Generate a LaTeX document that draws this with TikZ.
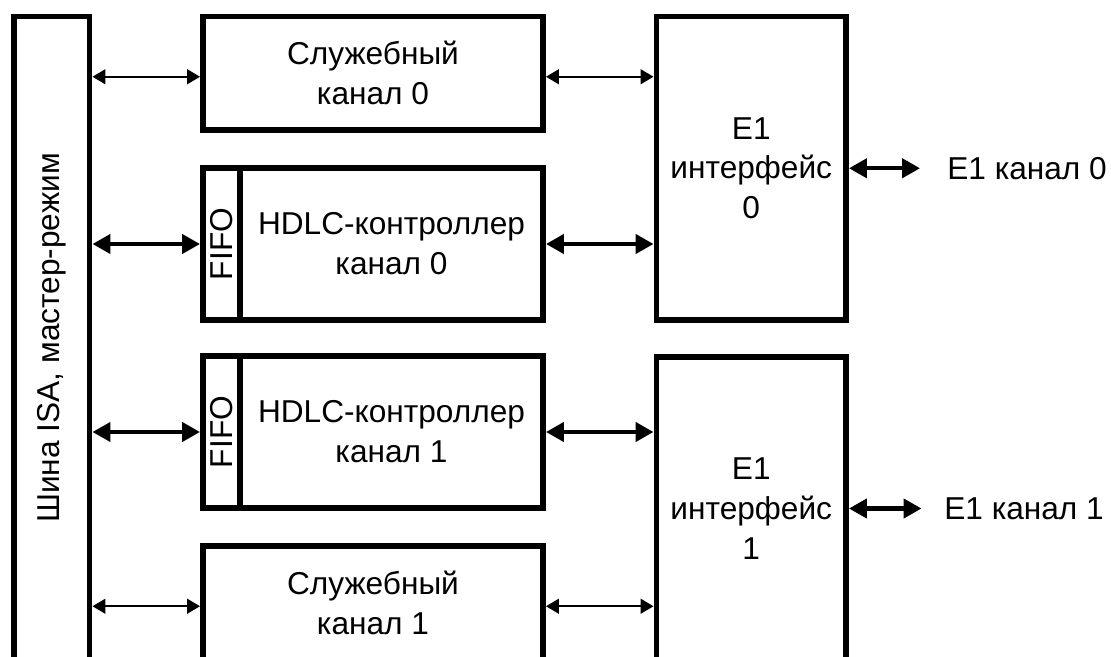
\documentclass[tikz,border=0pt]{standalone}
\usepackage{fontspec}
\setmainfont{Liberation Sans}
\usetikzlibrary{arrows.meta}

\begin{document}
\begin{tikzpicture}[scale=1.0000]
	\tikzstyle{every node}=[scale=1.0000, font=\fontsize{18}{22.7}\selectfont]
	\tikzstyle{blok}=[draw= a00000b , line width=3.4pt, inner sep=0pt, align=center]
	\tikzstyle{tonkaya}=[draw= a00000b , line width=1.0pt, {Triangle[length=7.4pt,width=8.5pt]}-{Triangle[length=7.4pt,width=8.5pt]}]
	\tikzstyle{tolstaya}=[draw= a00000b , line width=2.4pt, {Triangle[length=10.2pt,width=10.8pt]}-{Triangle[length=10.2pt,width=10.8pt]}]
	
	\definecolor{a00000b}{RGB}{0,0,0}
	%% page frame, bottom edge cuts the lower boxes
	\clip (0.0000,0.0000) rectangle (22.2200,-13.1400);
	
	\node [blok, minimum width=1.5100cm, minimum height=12.8600cm] (bus) at (1.0350,-6.7600) {\rotatebox{90}{Шина ISA, мастер-режим}};
	\node [blok, minimum width=6.8000cm, minimum height=2.2700cm] (slch0) at (7.4600,-1.4650) {Служебный\\канал 0};
	\node [blok, minimum width=0.7400cm, minimum height=3.0400cm] (fifo0) at (4.4300,-4.8800) {\rotatebox{90}{FIFO}};
	\node [blok, minimum width=6.0600cm, minimum height=3.0400cm] (hdlc0) at (7.8300,-4.8800) {HDLC-контроллер\\канал 0};
	\node [blok, minimum width=3.7900cm, minimum height=6.0700cm] (e1if0) at (15.0250,-3.3650) {E1\\интерфейс\\0};
	\node [right, inner sep=0pt] (e1ch0) at (18.9400,-3.3650) {E1 канал 0};
	\coordinate (e1end0) at (18.4000,-3.3650);
	
	\node [blok, minimum width=0.7400cm, minimum height=3.0400cm] (fifo1) at (4.4300,-8.6400) {\rotatebox{90}{FIFO}};
	\node [blok, minimum width=6.0600cm, minimum height=3.0400cm] (hdlc1) at (7.8300,-8.6400) {HDLC-контроллер\\канал 1};
	\node [blok, minimum width=3.7900cm, minimum height=6.0700cm] (e1if1) at (15.0250,-10.1700) {E1\\интерфейс\\1};
	\node [blok, minimum width=6.8000cm, minimum height=2.2700cm] (slch1) at (7.4600,-12.0550) {Служебный\\канал 1};
	\node [right, inner sep=0pt] (e1ch1) at (18.8800,-10.1700) {E1 канал 1};
	\coordinate (e1end1) at (18.4300,-10.1700);
	
	\draw [tonkaya] ([yshift=-0.0700cm]bus.east |- slch0.west) -- ([yshift=-0.0700cm]slch0.west);
	\draw [tolstaya] (bus.east |- fifo0.west) -- (fifo0.west);
	\draw [tolstaya] (bus.east |- fifo1.west) -- (fifo1.west);
	\draw [tonkaya] ([yshift=-0.0700cm]bus.east |- slch1.west) -- ([yshift=-0.0700cm]slch1.west);
	\draw [tonkaya] ([yshift=-0.0700cm]slch0.east) -- ([yshift=-0.0700cm]slch0.east -| e1if0.west);
	\draw [tolstaya] (hdlc0.east) -- (hdlc0.east -| e1if0.west);
	\draw [tolstaya] (hdlc1.east) -- (hdlc1.east -| e1if1.west);
	\draw [tonkaya] ([yshift=-0.0700cm]slch1.east) -- ([yshift=-0.0700cm]slch1.east -| e1if1.west);
	\draw [tolstaya] (e1if0.east) -- (e1end0);
	\draw [tolstaya] (e1if1.east) -- (e1end1);

\end{tikzpicture}
\end{document}
